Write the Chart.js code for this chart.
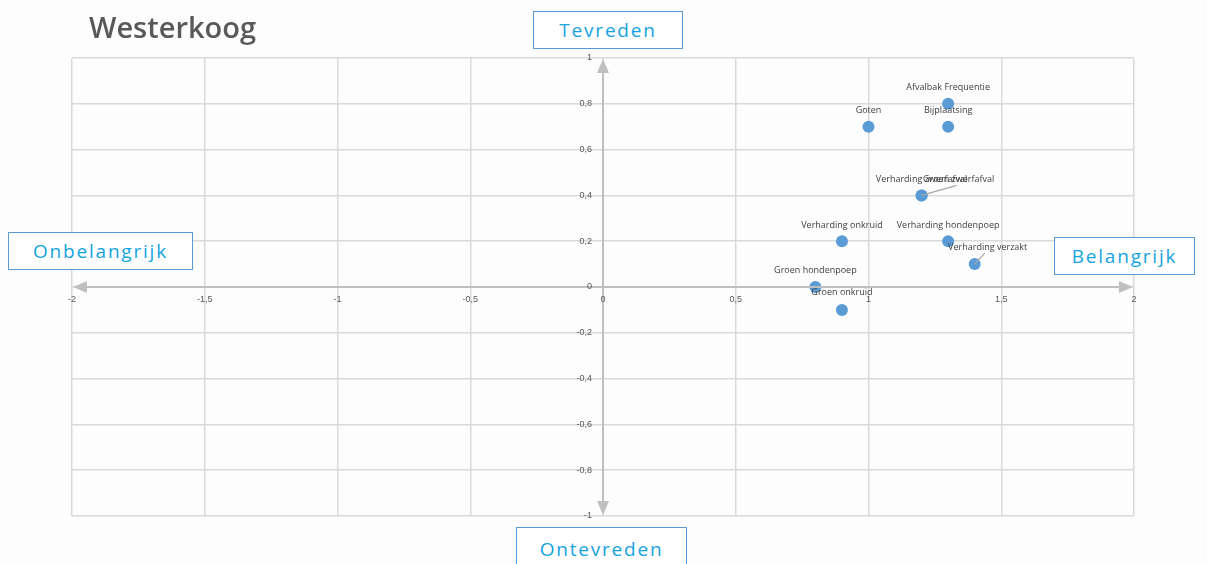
<!DOCTYPE html>
<html>
<head>
<meta charset="utf-8">
<script src="https://cdn.jsdelivr.net/npm/chart.js@4/dist/chart.umd.min.js"></script>
<style>
  html, body { margin: 0; padding: 0; background: #fdfdfd; }
  #wrap { position: relative; width: 1207px; height: 564px; overflow: hidden; background: #fdfdfd; }
  #c { position: absolute; left: 0; top: 0; }
  .title { position: absolute; left: 89px; top: 12px; font-family: "Open Sans", sans-serif; font-size: 29px; line-height: 29px; font-weight: 600; color: #595959; }
  .box { position: absolute; box-sizing: border-box; border: 1.5px solid #5B9BD5; background: #fff;
         font-family: "Open Sans", sans-serif; font-size: 19px; font-weight: 500; color: #14A3DF; text-align: center; letter-spacing: 1.8px; }
</style>
</head>
<body>
<div id="wrap">
  <canvas id="c" width="1207" height="564"></canvas>
  <div class="title">Westerkoog</div>
  <div class="box" style="left:533px;top:11px;width:150px;height:38px;line-height:36px;">Tevreden</div>
  <div class="box" style="left:8px;top:232px;width:185px;height:38px;line-height:36px;">Onbelangrijk</div>
  <div class="box" style="left:1054px;top:237px;width:141px;height:38px;line-height:36px;">Belangrijk</div>
  <div class="box" style="left:516px;top:527px;width:171px;height:42px;line-height:42px;">Ontevreden</div>
</div>
<script>
// ---- Data ----
const pointNames = ['Afvalbak Frequentie', 'Bijplaatsing', 'Goten', 'Verharding zwerfafval', 'Groen zwerfafval',
                    'Verharding onkruid', 'Verharding hondenpoep', 'Verharding verzakt', 'Groen hondenpoep', 'Groen onkruid'];
const importance = [1.3, 1.3, 1.0, 1.2, 1.2, 0.9, 1.3, 1.4, 0.8, 0.9];
const satisfaction = [0.8, 0.7, 0.7, 0.4, 0.4, 0.2, 0.2, 0.1, 0.0, -0.1];
const xTickValues = [-2, -1.5, -1, -0.5, 0, 0.5, 1, 1.5, 2];
const xTickLabels = ['-2', '-1,5', '-1', '-0,5', '0', '0,5', '1', '1,5', '2'];
const yTickValues = [1, 0.8, 0.6, 0.4, 0.2, 0, -0.2, -0.4, -0.6, -0.8, -1];
const yTickLabels = ['1', '0,8', '0,6', '0,4', '0,2', '0', '-0,2', '-0,4', '-0,6', '-0,8', '-1'];

// label placement (pixel offsets from the point, styling only)
const labelPlacement = {
  'Afvalbak Frequentie': { dx: 0, dy: -16 },
  'Bijplaatsing': { dx: 0, dy: -16 },
  'Goten': { dx: 0, dy: -16 },
  'Verharding zwerfafval': { dx: 0, dy: -16 },
  'Groen zwerfafval': { dx: 37, dy: -16, leader: { dx: 35, dy: -10 } },
  'Verharding onkruid': { dx: 0, dy: -16 },
  'Verharding hondenpoep': { dx: 0, dy: -16 },
  'Verharding verzakt': { dx: 13, dy: -17, leader: { dx: 10, dy: -11 } },
  'Groen hondenpoep': { dx: 0, dy: -17 },
  'Groen onkruid': { dx: 0, dy: -17 }
};

const points = importance.map((x, i) => ({ x: x, y: satisfaction[i] }));

const overlay = {
  id: 'overlay',
  afterDatasetsDraw(chart) {
    const ctx = chart.ctx;
    const xs = chart.scales.x, ys = chart.scales.y;
    const x0 = xs.getPixelForValue(0), y0 = ys.getPixelForValue(0);
    const L = xs.getPixelForValue(-2), R = xs.getPixelForValue(2);
    const T = ys.getPixelForValue(1), B = ys.getPixelForValue(-1);
    ctx.save();
    // axes
    ctx.strokeStyle = '#BFBFBF';
    ctx.fillStyle = '#BFBFBF';
    ctx.lineWidth = 2;
    ctx.beginPath();
    ctx.moveTo(L + 10, y0); ctx.lineTo(R - 10, y0);
    ctx.moveTo(x0, T + 10); ctx.lineTo(x0, B - 10);
    ctx.stroke();
    const tri = (a, b, c) => { ctx.beginPath(); ctx.moveTo(a[0], a[1]); ctx.lineTo(b[0], b[1]); ctx.lineTo(c[0], c[1]); ctx.closePath(); ctx.fill(); };
    tri([L + 1, y0], [L + 15, y0 - 6], [L + 15, y0 + 6]);
    tri([R - 1, y0], [R - 15, y0 - 6], [R - 15, y0 + 6]);
    tri([x0, T + 1], [x0 - 6, T + 15], [x0 + 6, T + 15]);
    tri([x0, B - 1], [x0 - 6, B - 15], [x0 + 6, B - 15]);

    // tick labels
    ctx.fillStyle = '#595959';
    ctx.font = '9px "Liberation Sans", sans-serif';
    ctx.textAlign = 'center';
    ctx.textBaseline = 'middle';
    xTickValues.forEach((v, i) => {
      ctx.fillText(xTickLabels[i], xs.getPixelForValue(v), y0 + 13);
    });
    ctx.textAlign = 'right';
    yTickValues.forEach((v, i) => {
      ctx.fillText(yTickLabels[i], x0 - 11, ys.getPixelForValue(v));
    });

    // point labels
    ctx.font = '9px "Open Sans", sans-serif';
    ctx.fillStyle = '#404040';
    ctx.textAlign = 'center';
    const meta = chart.getDatasetMeta(0);
    meta.data.forEach((el, i) => {
      const p = labelPlacement[pointNames[i]];
      if (p.leader) {
        ctx.strokeStyle = '#A6A6A6';
        ctx.lineWidth = 1.2;
        ctx.beginPath();
        ctx.moveTo(el.x, el.y);
        ctx.lineTo(el.x + p.leader.dx, el.y + p.leader.dy);
        ctx.stroke();
      }
      ctx.fillText(pointNames[i], el.x + p.dx, el.y + p.dy);
    });
    ctx.restore();
  }
};

new Chart(document.getElementById('c'), {
  type: 'scatter',
  data: {
    datasets: [{
      data: points,
      backgroundColor: '#5B9BD5',
      borderColor: '#5B9BD5',
      pointRadius: 6,
      pointHoverRadius: 6,
      borderWidth: 0
    }]
  },
  options: {
    responsive: false,
    animation: false,
    events: [],
    layout: { padding: { left: 72, right: 73, top: 58, bottom: 48 } },
    plugins: { legend: { display: false }, tooltip: { enabled: false } },
    scales: {
      x: {
        type: 'linear', min: -2, max: 2,
        ticks: { display: false, stepSize: 0.5 },
        grid: { color: '#D9D9D9', lineWidth: 1.5, drawTicks: false },
        border: { display: false }
      },
      y: {
        type: 'linear', min: -1, max: 1,
        ticks: { display: false, stepSize: 0.2 },
        grid: { color: '#D9D9D9', lineWidth: 1.5, drawTicks: false },
        border: { display: false }
      }
    }
  },
  plugins: [overlay]
});
</script>
</body>
</html>
